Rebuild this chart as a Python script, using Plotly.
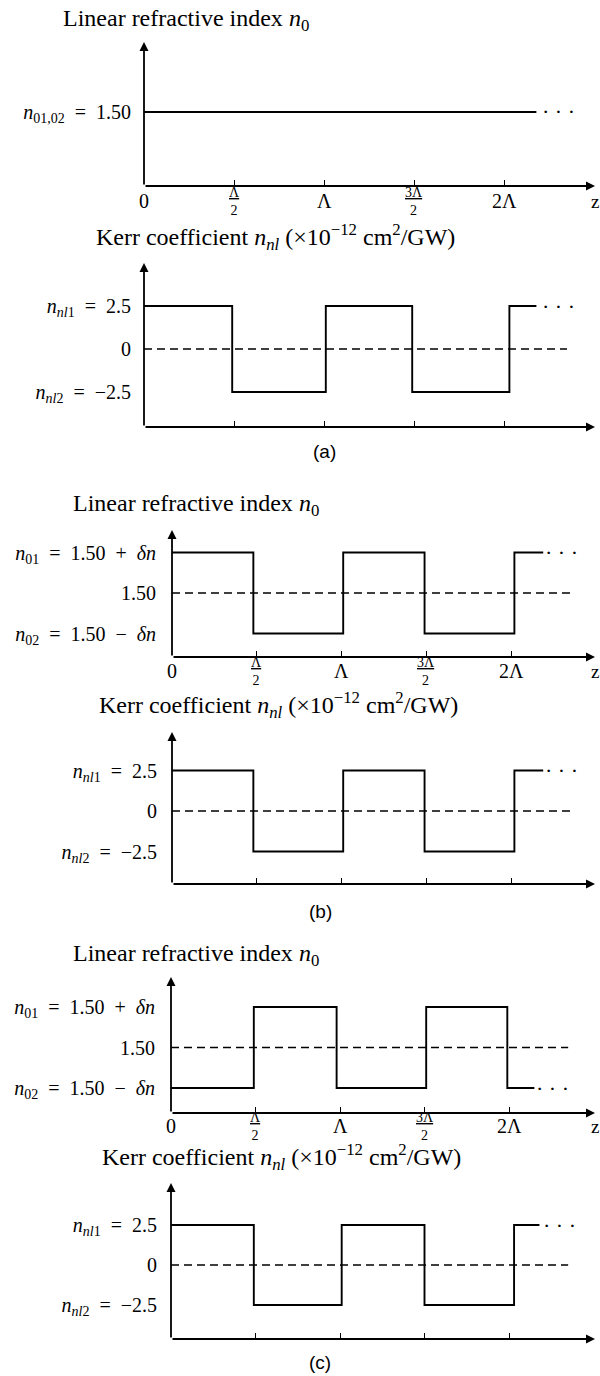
import plotly.graph_objects as go

# ---------------- data ----------------
z_tick_vals = [0, 0.5, 1, 1.5, 2]
z_tick_text = ["0", "Λ/2", "Λ", "3Λ/2", "2Λ"]
z_axis_label = "z"

# (a) linear index: uniform 1.50
za_lin = [0.0, 2.18]
n0_a = [1.50, 1.50]
# (a) Kerr coefficient
za_kerr = [0.0, 0.49, 1.01, 1.49, 2.03, 2.18]
nnl_a = [2.5, -2.5, 2.5, -2.5, 2.5, 2.5]
# (b) linear index (schematic δn = 0.05)
zb_lin = [0.0, 0.48, 1.01, 1.49, 2.02, 2.19]
n0_b = [1.55, 1.45, 1.55, 1.45, 1.55, 1.55]
# (b) Kerr coefficient
zb_kerr = [0.0, 0.48, 1.01, 1.49, 2.02, 2.19]
nnl_b = [2.5, -2.5, 2.5, -2.5, 2.5, 2.5]
# (c) linear index
zc_lin = [0.0, 0.49, 0.98, 1.51, 1.99, 2.15]
n0_c = [1.45, 1.55, 1.45, 1.55, 1.45, 1.45]
# (c) Kerr coefficient
zc_kerr = [0.0, 0.49, 1.01, 1.50, 2.03, 2.18]
nnl_c = [2.5, -2.5, 2.5, -2.5, 2.5, 2.5]

ref_lin = 1.50
ref_kerr = 0.0
dash_end = 2.35

SP = "&nbsp;"
lin_ticks_a = [1.50]
lin_text_a = ["<i>n</i><sub>01,02</sub>" + SP * 2 + "=" + SP * 2 + "1.50"]
lin_ticks_bc = [1.55, 1.50, 1.45]
lin_text_bc = ["<i>n</i><sub>01</sub>" + SP * 2 + "=" + SP * 2 + "1.50" + SP * 2 + "+" + SP * 2 + "<i>δn</i>",
               "1.50",
               "<i>n</i><sub>02</sub>" + SP * 2 + "=" + SP * 2 + "1.50" + SP * 2 + "−" + SP * 2 + "<i>δn</i>"]
kerr_ticks = [2.5, 0, -2.5]
kerr_text = ["<i>n</i><sub><i>nl</i>1</sub>" + SP * 2 + "=" + SP * 2 + "2.5", "0",
             "<i>n</i><sub><i>nl</i>2</sub>" + SP * 2 + "=" + SP * 2 + "−2.5"]

title_lin = "Linear refractive index <i>n</i><sub>0</sub>"
title_kerr = "Kerr coefficient <i>n</i><sub><i>nl</i></sub> (×10<sup>−12</sup> cm<sup>2</sup>/GW)"
captions = ["(a)", "(b)", "(c)"]

# ---------------- layout (pixels) ----------------
W, H = 600, 1376
SERIF = "Liberation Serif, Times New Roman, serif"
SANS = "Liberation Sans, Arial, sans-serif"

panels = [
    dict(z=za_lin, v=n0_a, dashed=False, ticks=lin_ticks_a, text=lin_text_a, title=title_lin,
         x0=144, ppl=180, top=42, bot=186, c_val=1.50, c_px=112, k=810, xlab=True, lab_off=15,
         dots=2.30, title_xy=(186, 20), stand=12),
    dict(z=za_kerr, v=nnl_a, dashed=True, ref=ref_kerr, ticks=kerr_ticks, text=kerr_text, title=title_kerr,
         x0=144, ppl=180, top=263, bot=427, c_val=0.0, c_px=349, k=17.2, xlab=False,
         dots=2.30, title_xy=(275, 237), stand=12),
    dict(z=zb_lin, v=n0_b, dashed=True, ref=ref_lin, ticks=lin_ticks_bc, text=lin_text_bc, title=title_lin,
         x0=172, ppl=169.5, top=530, bot=657, c_val=1.50, c_px=593, k=810, xlab=True, lab_off=14,
         dots=2.30, title_xy=(196, 505), stand=15),
    dict(z=zb_kerr, v=nnl_b, dashed=True, ref=ref_kerr, ticks=kerr_ticks, text=kerr_text, title=title_kerr,
         x0=172, ppl=169.5, top=732, bot=884, c_val=0.0, c_px=811, k=16.2, xlab=False,
         dots=2.30, title_xy=(278, 705), stand=14),
    dict(z=zc_lin, v=n0_c, dashed=True, ref=ref_lin, ticks=lin_ticks_bc, text=lin_text_bc, title=title_lin,
         x0=171, ppl=169, top=977, bot=1113, c_val=1.50, c_px=1047.5, k=810, xlab=True, lab_off=13,
         dots=2.26, title_xy=(196, 955), stand=15),
    dict(z=zc_kerr, v=nnl_c, dashed=True, ref=ref_kerr, ticks=kerr_ticks, text=kerr_text, title=title_kerr,
         x0=171, ppl=169, top=1183, bot=1339, c_val=0.0, c_px=1265, k=16, xlab=False,
         dots=2.30, title_xy=(281, 1157), stand=13),
]
caption_xy = [(324, 452), (320, 911), (320, 1362)]
X_END = 595


def frac(t):
    if "/" in t:
        num, den = t.split("/")
        return ("<span style='text-decoration:underline'>" + num + "</span><br>" + den), 14
    return t, 20


fig = go.Figure()
annotations = []
layout = {}

for i, p in enumerate(panels):
    n = "" if i == 0 else str(i + 1)
    xa, ya = "x" + n, "y" + n
    xmax = (X_END - p["x0"]) / p["ppl"]
    ymin = p["c_val"] - (p["bot"] - p["c_px"]) / p["k"]
    ymax = p["c_val"] + (p["c_px"] - p["top"]) / p["k"]

    fig.add_trace(go.Scatter(x=p["z"], y=p["v"], mode="lines", line_shape="hv",
                             line=dict(color="black", width=1.9), xaxis=xa, yaxis=ya,
                             showlegend=False, hoverinfo="skip"))
    if p["dashed"]:
        fig.add_trace(go.Scatter(x=[0, dash_end], y=[p["ref"], p["ref"]], mode="lines",
                                 line=dict(color="black", width=1.5, dash="8px,5px"),
                                 xaxis=xa, yaxis=ya, showlegend=False, hoverinfo="skip"))

    layout["xaxis" + n] = dict(domain=[p["x0"] / W, X_END / W], range=[0, xmax], anchor=ya,
                               showgrid=False, zeroline=False, showline=False,
                               tickvals=z_tick_vals[1:], ticks="inside", ticklen=6,
                               tickwidth=1, tickcolor="black", showticklabels=False,
                               fixedrange=True)
    layout["yaxis" + n] = dict(domain=[1 - p["bot"] / H, 1 - p["top"] / H], range=[ymin, ymax],
                               anchor=xa, showgrid=False, zeroline=False, showline=False,
                               tickvals=p["ticks"], ticktext=p["text"], ticks="",
                               ticklabelstandoff=p["stand"],
                               tickfont=dict(family=SERIF, size=20, color="black"),
                               fixedrange=True)

    # axes with arrowheads
    annotations.append(dict(x=xmax, y=ymin, ax=0, ay=ymin, xref=xa, yref=ya, axref=xa, ayref=ya,
                            showarrow=True, arrowhead=2, arrowsize=1.0, arrowwidth=1.8,
                            arrowcolor="black", text=""))
    annotations.append(dict(x=0, y=ymax, ax=0, ay=ymin, xref=xa, yref=ya, axref=xa, ayref=ya,
                            showarrow=True, arrowhead=2, arrowsize=1.0, arrowwidth=1.8,
                            arrowcolor="black", text=""))
    # continuation dots
    annotations.append(dict(x=p["dots"], y=p["v"][-1], xref=xa, yref=ya, text="· · ·",
                            showarrow=False, font=dict(family=SERIF, size=22, color="black"),
                            xanchor="center", yanchor="middle"))
    # x tick labels
    if p["xlab"]:
        for v, t in zip(z_tick_vals, z_tick_text):
            txt, fs = frac(t)
            annotations.append(dict(x=v, y=0, xref=xa, yref=ya + " domain", yshift=-p["lab_off"],
                                    text=txt, showarrow=False, xanchor="center",
                                    yanchor="middle",
                                    font=dict(family=SERIF, size=fs, color="black")))
        annotations.append(dict(x=xmax, y=0, xref=xa, yref=ya + " domain", yshift=-p["lab_off"],
                                text=z_axis_label, showarrow=False, xanchor="center",
                                yanchor="middle", font=dict(family=SERIF, size=19, color="black")))
    # panel title
    tx, ty = p["title_xy"]
    annotations.append(dict(x=tx / W, y=1 - ty / H, xref="paper", yref="paper", text=p["title"],
                            showarrow=False, xanchor="center", yanchor="middle",
                            font=dict(family=SERIF, size=24, color="black")))

for c, (cx, cy) in zip(captions, caption_xy):
    annotations.append(dict(x=cx / W, y=1 - cy / H, xref="paper", yref="paper", text=c,
                            showarrow=False, xanchor="center", yanchor="middle",
                            font=dict(family=SANS, size=19, color="black")))

fig.update_layout(width=W, height=H, autosize=False, margin=dict(l=0, r=0, t=0, b=0),
                  paper_bgcolor="white", plot_bgcolor="white", annotations=annotations,
                  showlegend=False, **layout)

fig.write_html("out.html")
